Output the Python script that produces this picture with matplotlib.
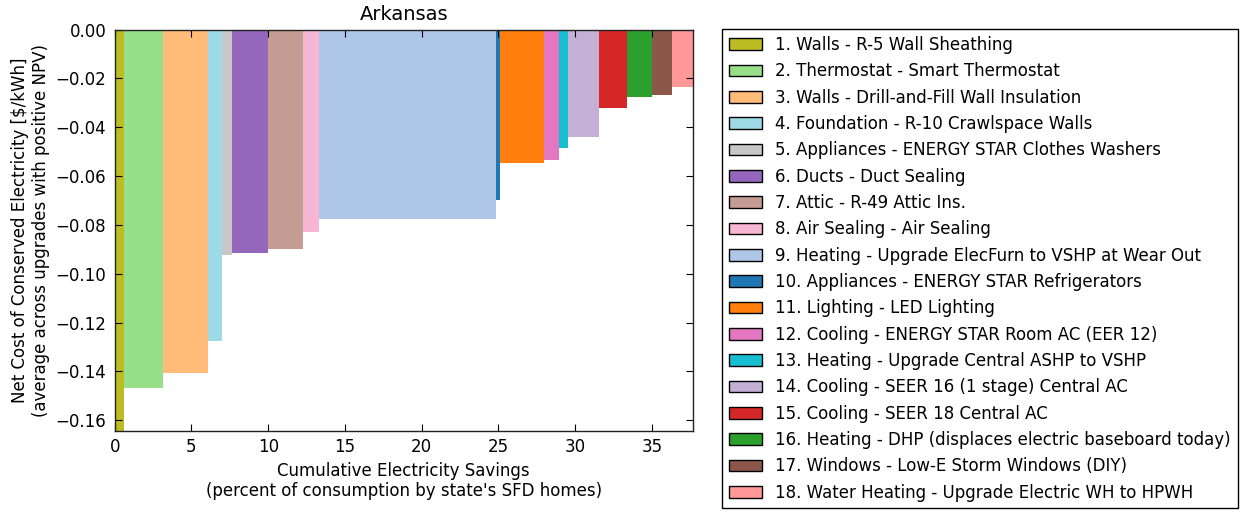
import numpy as np
import matplotlib
matplotlib.use('Agg')
from matplotlib import pyplot as plt
from matplotlib.patches import Patch
from matplotlib.ticker import FuncFormatter

state = 'Arkansas'

labels = [
    '1. Walls - R-5 Wall Sheathing',
    '2. Thermostat - Smart Thermostat',
    '3. Walls - Drill-and-Fill Wall Insulation',
    '4. Foundation - R-10 Crawlspace Walls',
    '5. Appliances - ENERGY STAR Clothes Washers',
    '6. Ducts - Duct Sealing',
    '7. Attic - R-49 Attic Ins.',
    '8. Air Sealing - Air Sealing',
    '9. Heating - Upgrade ElecFurn to VSHP at Wear Out',
    '10. Appliances - ENERGY STAR Refrigerators',
    '11. Lighting - LED Lighting',
    '12. Cooling - ENERGY STAR Room AC (EER 12)',
    '13. Heating - Upgrade Central ASHP to VSHP',
    '14. Cooling - SEER 16 (1 stage) Central AC',
    '15. Cooling - SEER 18 Central AC',
    '16. Heating - DHP (displaces electric baseboard today)',
    '17. Windows - Low-E Storm Windows (DIY)',
    '18. Water Heating - Upgrade Electric WH to HPWH',
]

# percent savings of each upgrade (bar widths)
savings = [0.61, 2.54, 2.93, 0.91, 0.65, 2.37, 2.28, 1.01, 11.51,
           0.32, 2.83, 0.98, 0.58, 2.04, 1.83, 1.58, 1.35, 1.33]

# net cost of conserved electricity, $/kWh
ccce = [-0.1645, -0.147, -0.1405, -0.1275, -0.0925, -0.0916, -0.0899, -0.0828,
        -0.0776, -0.0699, -0.0545, -0.0533, -0.0484, -0.0441, -0.0322,
        -0.0277, -0.0269, -0.0235]

colors = ['#bcbd22', '#98df8a', '#ffbb78', '#9edae5', '#c7c7c7', '#9467bd',
          '#c49c94', '#f7b6d2', '#aec7e8', '#1f77b4', '#ff7f0e', '#e377c2',
          '#17becf', '#c5b0d5', '#d62728', '#2ca02c', '#8c564b', '#ff9896']

plt.rcParams['font.family'] = ['DejaVu Sans']
plt.rcParams['font.size'] = 12

fig = plt.figure(figsize=(12.45, 5.12), dpi=100)
ax = fig.add_axes([0.0921, 0.158, 0.4643, 0.784])

lefts = np.concatenate([[0], np.cumsum(savings)[:-1]])
ax.bar(lefts, ccce, width=savings, align='edge', color=colors, linewidth=0)

ax.set_xlim(0, np.sum(savings))
ax.set_ylim(min(ccce), 0)
ax.set_xticks(np.arange(0, 36, 5))
ax.set_yticks(np.arange(-0.16, 0.001, 0.02))

def yfmt(v, pos):
    s = '%.2f' % v
    if s == '-0.00':
        s = '0.00'
    return s.replace('-', '\u2212')

ax.yaxis.set_major_formatter(FuncFormatter(yfmt))
ax.tick_params(direction='in', top=True, right=True, length=5, width=0.8,
               labelsize=12)
ax.tick_params(axis='x', pad=5)
ax.tick_params(axis='y', pad=6)
for sp in ax.spines.values():
    sp.set_linewidth(1.0)
    sp.set_color('#222222')

ax.set_title(state, fontsize=14, pad=7)
ax.set_xlabel('Cumulative Electricity Savings\n(percent of consumption by state\'s SFD homes)',
              fontsize=12)
ax.set_ylabel('Net Cost of Conserved Electricity [\\$/kWh]\n(average across upgrades with positive NPV)',
              fontsize=12)

# legend with black-edged patches
handles = [Patch(facecolor=c, edgecolor='black', linewidth=1.0) for c in colors]
leg = fig.legend(handles, labels, loc='upper left', bbox_to_anchor=(0.58, 0.943),
                 borderaxespad=0, fontsize=12, fancybox=False, framealpha=1,
                 edgecolor='black', labelspacing=0.5, handlelength=2.0)
leg.get_frame().set_linewidth(1.0)

fig.savefig('out.png', dpi=100)
